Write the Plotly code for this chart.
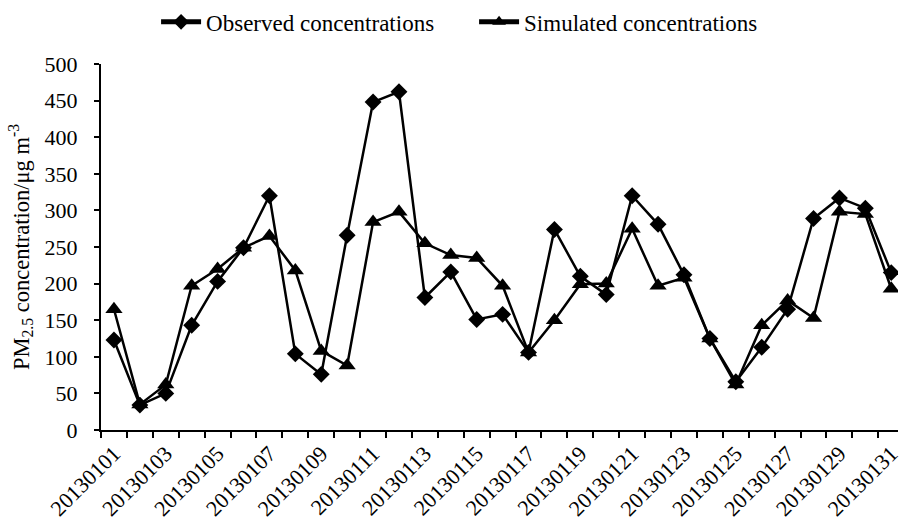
import plotly.graph_objects as go

dates = [f"201301{d:02d}" for d in range(1, 32)]
observed = [123, 34, 50, 143, 203, 249, 320, 104, 76, 266, 448, 462, 181, 216, 151, 158,
            106, 274, 210, 185, 320, 281, 212, 125, 66, 113, 165, 289, 317, 303, 215]
simulated = [165, 35, 62, 197, 220, 249, 265, 218, 108, 88, 284, 298, 255, 239, 235, 197,
             106, 150, 199, 200, 275, 197, 208, 125, 62, 143, 177, 153, 298, 295, 193]
label_text = [d if i % 2 == 0 else " " for i, d in enumerate(dates)]
yticks = list(range(0, 501, 50))

FONT = "Liberation Serif"

fig = go.Figure()
fig.add_trace(go.Scatter(
    x=dates, y=observed, name="Observed concentrations", mode="lines+markers",
    line=dict(color="black", width=2.5),
    marker=dict(symbol="diamond", size=13, color="black"),
))
fig.add_trace(go.Scatter(
    x=dates, y=simulated, name="Simulated concentrations", mode="lines+markers",
    line=dict(color="black", width=2.5),
    marker=dict(symbol="triangle-up", size=15, color="black"),
))

fig.update_layout(
    width=903, height=521,
    margin=dict(l=101, r=0, t=64, b=91),
    paper_bgcolor="white", plot_bgcolor="white",
    font=dict(family=FONT, size=22, color="black"),
    showlegend=True,
    legend=dict(
        orientation="h", xref="container", yref="container",
        x=0.525, xanchor="center", y=0.958, yanchor="middle",
        font=dict(family=FONT, size=23), itemsizing="constant", itemwidth=40,
        entrywidth=263, entrywidthmode="pixels",
        bgcolor="rgba(0,0,0,0)",
    ),
    xaxis=dict(
        type="category", range=[-0.5, 30.26],
        tickmode="array", tickvals=dates, ticktext=label_text,
        tickson="boundaries", ticks="outside", ticklen=6, tickwidth=2, tickcolor="black",
        tickangle=-45, tickfont=dict(family=FONT, size=22),
        showline=True, linecolor="black", linewidth=2,
        showgrid=False, zeroline=False,
    ),
    yaxis=dict(
        range=[0, 500], tickvals=yticks,
        ticks="outside", ticklen=5, tickwidth=2, tickcolor="black",
        ticklabelstandoff=12, tickfont=dict(family=FONT, size=22),
        showline=True, linecolor="black", linewidth=2,
        showgrid=False, zeroline=False,
        title=dict(text="PM<sub>2.5</sub> concentration/μg m<sup>-3</sup>",
                   font=dict(family=FONT, size=22.5), standoff=9),
    ),
)

fig.write_html("out.html")
